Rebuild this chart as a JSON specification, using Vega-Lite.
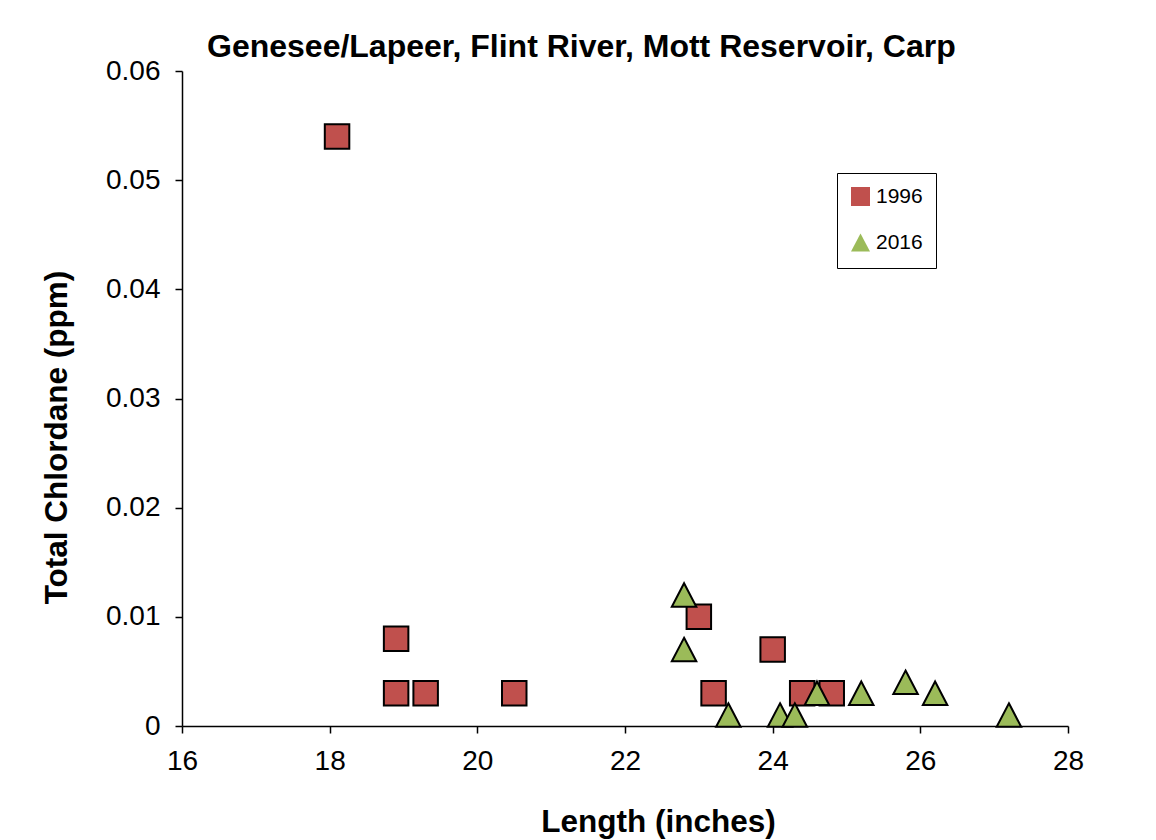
{
  "$schema": "https://vega.github.io/schema/vega-lite/v6.json",
  "autosize": "none",
  "width": 886,
  "height": 655,
  "padding": {"left": 182, "top": 71, "right": 88, "bottom": 114},
  "background": "white",
  "title": {
    "text": "Genesee/Lapeer, Flint River, Mott Reservoir, Carp",
    "anchor": "start",
    "frame": "group",
    "dx": 25,
    "dy": 15,
    "font": "Liberation Sans",
    "fontSize": 32,
    "fontWeight": "bold",
    "color": "black",
    "offset": 8
  },
  "config": {
    "view": {"stroke": null},
    "font": "Liberation Sans",
    "axis": {
      "domainColor": "black",
      "domainWidth": 1.5,
      "tickColor": "black",
      "tickWidth": 1.5,
      "tickSize": 7,
      "grid": false,
      "labelFont": "Liberation Sans",
      "labelFontSize": 28,
      "labelColor": "black",
      "labelFlush": false,
      "titleFont": "Liberation Sans",
      "titleFontSize": 31.5,
      "titleFontWeight": "bold",
      "titleColor": "black"
    }
  },
  "data": {
    "values": [
      {"length": 18.1, "chlordane": 0.054, "year": "1996"},
      {"length": 18.9, "chlordane": 0.008, "year": "1996"},
      {"length": 18.9, "chlordane": 0.003, "year": "1996"},
      {"length": 19.3, "chlordane": 0.003, "year": "1996"},
      {"length": 20.5, "chlordane": 0.003, "year": "1996"},
      {"length": 23.0, "chlordane": 0.010, "year": "1996"},
      {"length": 23.2, "chlordane": 0.003, "year": "1996"},
      {"length": 24.0, "chlordane": 0.007, "year": "1996"},
      {"length": 24.4, "chlordane": 0.003, "year": "1996"},
      {"length": 24.8, "chlordane": 0.003, "year": "1996"},
      {"length": 22.8, "chlordane": 0.012, "year": "2016"},
      {"length": 22.8, "chlordane": 0.007, "year": "2016"},
      {"length": 23.4, "chlordane": 0.001, "year": "2016"},
      {"length": 24.1, "chlordane": 0.001, "year": "2016"},
      {"length": 24.3, "chlordane": 0.001, "year": "2016"},
      {"length": 24.6, "chlordane": 0.003, "year": "2016"},
      {"length": 25.2, "chlordane": 0.003, "year": "2016"},
      {"length": 25.8, "chlordane": 0.004, "year": "2016"},
      {"length": 26.2, "chlordane": 0.003, "year": "2016"},
      {"length": 27.2, "chlordane": 0.001, "year": "2016"}
    ]
  },
  "mark": {"type": "point", "filled": true, "stroke": "black", "strokeWidth": 2, "opacity": 1, "size": 600},
  "encoding": {
    "x": {
      "field": "length",
      "type": "quantitative",
      "scale": {"domain": [16, 28], "nice": false, "zero": false},
      "axis": {"values": [16, 18, 20, 22, 24, 26, 28], "title": "Length (inches)", "labelPadding": 14, "titlePadding": 31, "titleX": 476}
    },
    "y": {
      "field": "chlordane",
      "type": "quantitative",
      "scale": {"domain": [0, 0.06], "nice": false},
      "axis": {"values": [0, 0.01, 0.02, 0.03, 0.04, 0.05, 0.06], "format": ".2~f", "title": "Total Chlordane (ppm)", "labelPadding": 15, "titlePadding": 32, "titleY": 366}
    },
    "shape": {
      "field": "year",
      "type": "nominal",
      "scale": {"domain": ["1996", "2016"], "range": ["square", "M0,-0.96L1,0.96L-1,0.96Z"]},
      "legend": {
        "title": null,
        "orient": "none",
        "legendX": 655,
        "legendY": 102,
        "strokeColor": "black",
        "padding": 13,
        "rowPadding": 21,
        "symbolSize": 361,
        "symbolStrokeColor": "black",
        "symbolStrokeWidth": 1.5,
        "labelFontSize": 21,
        "labelFont": "Liberation Sans",
        "labelColor": "black",
        "labelOffset": 5,
        "encode": {"legend": {"update": {"strokeWidth": {"value": 1.5}}}}
      }
    },
    "fill": {
      "field": "year",
      "type": "nominal",
      "scale": {"domain": ["1996", "2016"], "range": ["#C0504D", "#9BBB59"]},
      "legend": null
    }
  }
}
